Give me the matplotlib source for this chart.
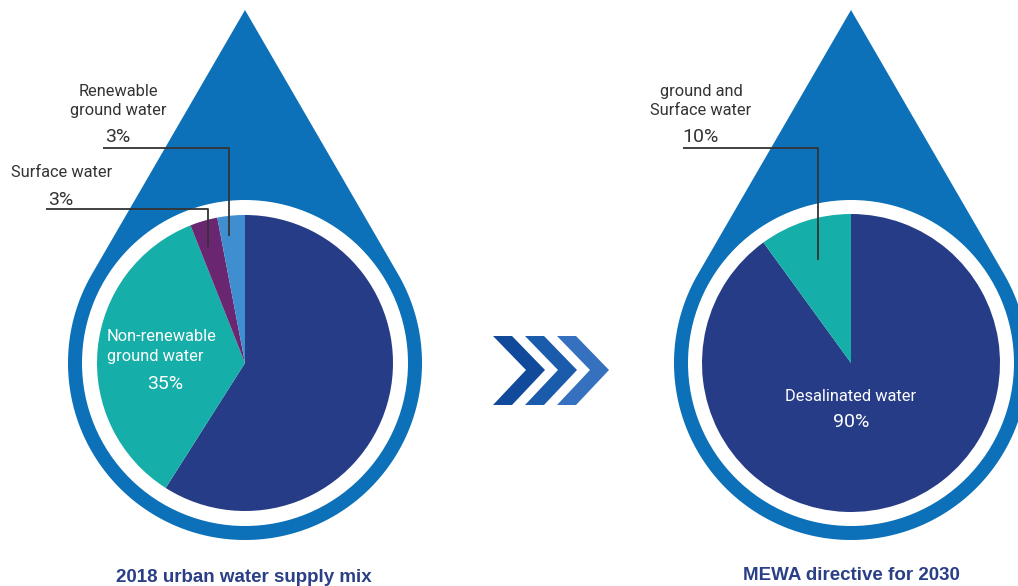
import numpy as np
import matplotlib
matplotlib.use("Agg")
import matplotlib.pyplot as plt
from matplotlib.patches import Polygon, Circle

W, H = 1018, 586

# 2018 supply mix and 2030 target (percent)
mix_2018_labels = ["Desalinated water", "Non-renewable ground water", "Surface water", "Renewable ground water"]
mix_2018_values = [59, 35, 3, 3]
mix_2030_labels = ["Desalinated water", "ground and Surface water"]
mix_2030_values = [90, 10]

navy = "#263c87"
teal = "#16aea8"
purple = "#6a2670"
light_blue = "#3f8ecf"
drop_blue = "#0c71b8"
text_grey = "#333333"
colors_2018 = [navy, teal, purple, light_blue]
colors_2030 = [navy, teal]

plt.rcParams['font.family'] = ['Roboto', 'DejaVu Sans']

fig = plt.figure(figsize=(W / 100, H / 100), dpi=100)
ax = fig.add_axes([0, 0, 1, 1])


def Y(y):
    # picture coords are measured from the top
    return H - y


def drop(cx, cy, tip_y, r_out, r_white):
    d = cy - tip_y
    th = np.degrees(np.arccos(r_out / d))
    a0, a1 = 90 - th, 90 + th - 360
    ang = np.radians(np.linspace(a0, a1, 200))
    pts = [(cx, Y(tip_y))] + [(cx + r_out * np.cos(a), Y(cy) + r_out * np.sin(a)) for a in ang]
    ax.add_patch(Polygon(pts, closed=True, fc=drop_blue, ec='none', zorder=1))
    ax.add_patch(Circle((cx, Y(cy)), r_white, fc='white', ec='none', zorder=2))


R_PIE = 148
drop(245, 363, 10, 177, 163)
drop(851, 363, 10, 177, 163)

w1, _ = ax.pie(mix_2018_values, colors=colors_2018, startangle=90, counterclock=False,
               radius=R_PIE, center=(245, Y(363)), frame=True,
               wedgeprops=dict(linewidth=0))
w2, _ = ax.pie(mix_2030_values, colors=colors_2030, startangle=90, counterclock=False,
               radius=R_PIE + 1, center=(851, Y(363)), frame=True,
               wedgeprops=dict(linewidth=0))
for w in w1 + w2:
    w.set_zorder(3)
ax.set_xlim(0, W)
ax.set_ylim(0, H)
ax.set_aspect('equal')
ax.axis('off')

# leader lines
lk = dict(color=text_grey, lw=1.3, zorder=5, solid_capstyle='butt')
ax.plot([103, 229, 229], [Y(148), Y(148), Y(236)], **lk)
ax.plot([46, 208, 208], [Y(209), Y(209), Y(247)], **lk)
ax.plot([683, 818, 818], [Y(148), Y(148), Y(260)], **lk)

lab = dict(fontsize=11.8, color=text_grey, ha='center', va='baseline', zorder=6)
pct = dict(fontsize=14, color=text_grey, ha='center', va='baseline', zorder=6)
wlab = dict(fontsize=11.8, color='white', va='baseline', zorder=6)
wpct = dict(fontsize=14, color='white', ha='center', va='baseline', zorder=6)

ax.text(118, Y(96), "Renewable", **lab)
ax.text(118, Y(115), "ground water", **lab)
ax.text(118, Y(142), f"{mix_2018_values[3]}%", **pct)
ax.text(62, Y(177), mix_2018_labels[2], **lab)
ax.text(61, Y(205), f"{mix_2018_values[2]}%", **pct)

ax.text(107, Y(341), "Non-renewable", ha='left', **wlab)
ax.text(107, Y(361), "ground water", ha='left', **wlab)
ax.text(165, Y(389), f"{mix_2018_values[1]}%", **wpct)

ax.text(701, Y(96), "ground and", **lab)
ax.text(701, Y(115), "Surface water", **lab)
ax.text(701, Y(142), f"{mix_2030_values[1]}%", **pct)

ax.text(851, Y(401), mix_2030_labels[0], ha='center', **wlab)
ax.text(851, Y(427), f"{mix_2030_values[0]}%", **wpct)

# chevrons between the two drops
chev_cols = ["#114a9a", "#1a5bab", "#3571be"]
for i, c in enumerate(chev_cols):
    x0 = 493 + 32 * i
    pts = [(x0, 336), (x0 + 19, 336), (x0 + 52, 370), (x0 + 19, 405), (x0, 405), (x0 + 33, 370)]
    ax.add_patch(Polygon([(x, Y(y)) for x, y in pts], closed=True, fc=c, ec='none', zorder=4))

tk = dict(fontsize=13.5, fontweight='bold', color="#2a3f86", ha='center', va='baseline',
          family=['Liberation Sans', 'DejaVu Sans'])
ax.text(244, Y(582), "2018 urban water supply mix", **tk)
ax.text(851, Y(580), "MEWA directive for 2030", **tk)

fig.savefig("out.png", dpi=100)
